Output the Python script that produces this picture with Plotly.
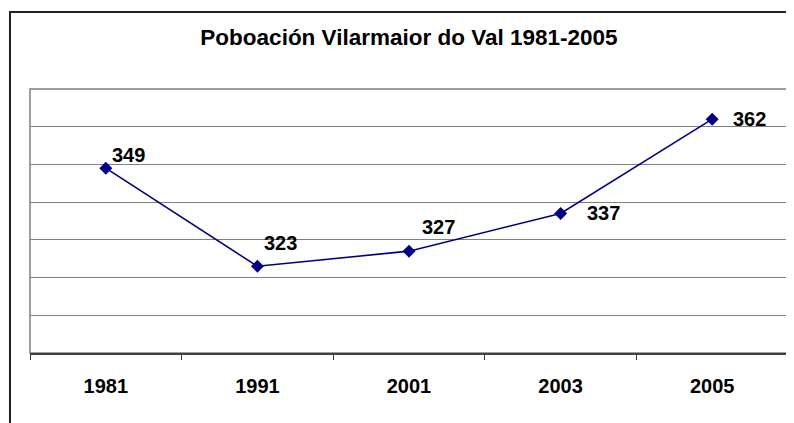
import plotly.graph_objects as go

years = ["1981", "1991", "2001", "2003", "2005"]
population = [349, 323, 327, 337, 362]
title_text = "Poboación Vilarmaior do Val 1981-2005"

# label offsets (pixels) for each data label, style only
label_dx = [4, 5, 11, 24, 19]
label_dy = [13, 23, 24, 0, 0]

navy = "#000080"
FONT = "Liberation Sans, Arial, sans-serif"

# the page body adds an 8px offset; compensate in the figure size
W, H = 786, 415

fig = go.Figure()
fig.add_trace(go.Scatter(
    x=years, y=population, mode="lines+markers",
    line=dict(color=navy, width=1.6),
    marker=dict(symbol="diamond", size=10, color=navy),
    hoverinfo="skip", showlegend=False,
))

for i, (v, dx, dy) in enumerate(zip(population, label_dx, label_dy)):
    fig.add_annotation(
        x=i, y=v, text="<b>" + str(v) + "</b>", showarrow=False,
        xanchor="left", yanchor="middle", xshift=dx, yshift=dy,
        font=dict(family=FONT, size=20, color="black"),
    )

# plot-area border (gray) and outer chart border
fig.add_shape(type="rect", xref="paper", yref="paper", x0=0, x1=1, y0=0, y1=1,
              line=dict(color="#808080", width=1.5), layer="below")
fig.add_shape(type="rect", xref="paper", yref="paper",
              x0=-0.0264, x1=1.2, y0=-0.6, y1=1.2917,
              line=dict(color="#222222", width=2), layer="below")

fig.update_layout(
    width=W, height=H,
    margin=dict(l=22, r=6, t=81, b=70, autoexpand=False),
    paper_bgcolor="white", plot_bgcolor="white",
    title=dict(text="<b>" + title_text + "</b>", x=401/W, xanchor="center",
               y=1 - 29/H, yanchor="middle", yref="container",
               font=dict(family=FONT, size=22.5, color="black")),
    font=dict(family=FONT, color="black"),
)
fig.update_xaxes(
    type="category", tickson="boundaries", ticks="outside", ticklen=5,
    tickcolor="#333333", tickwidth=1, tickangle=0,
    showline=True, linecolor="#404040", linewidth=2,
    showgrid=False, tickfont=dict(family=FONT, size=20, color="black"),
    tickprefix="<b>", ticksuffix="</b>", ticklabelstandoff=14,
    range=[-0.5, 4.5], automargin=False,
)
fig.update_yaxes(
    range=[300, 370], dtick=10, tick0=300, showticklabels=False,
    showgrid=True, gridcolor="#808080", gridwidth=1,
    zeroline=False, showline=False, ticks="", automargin=False,
)

fig.write_html("out.html")
